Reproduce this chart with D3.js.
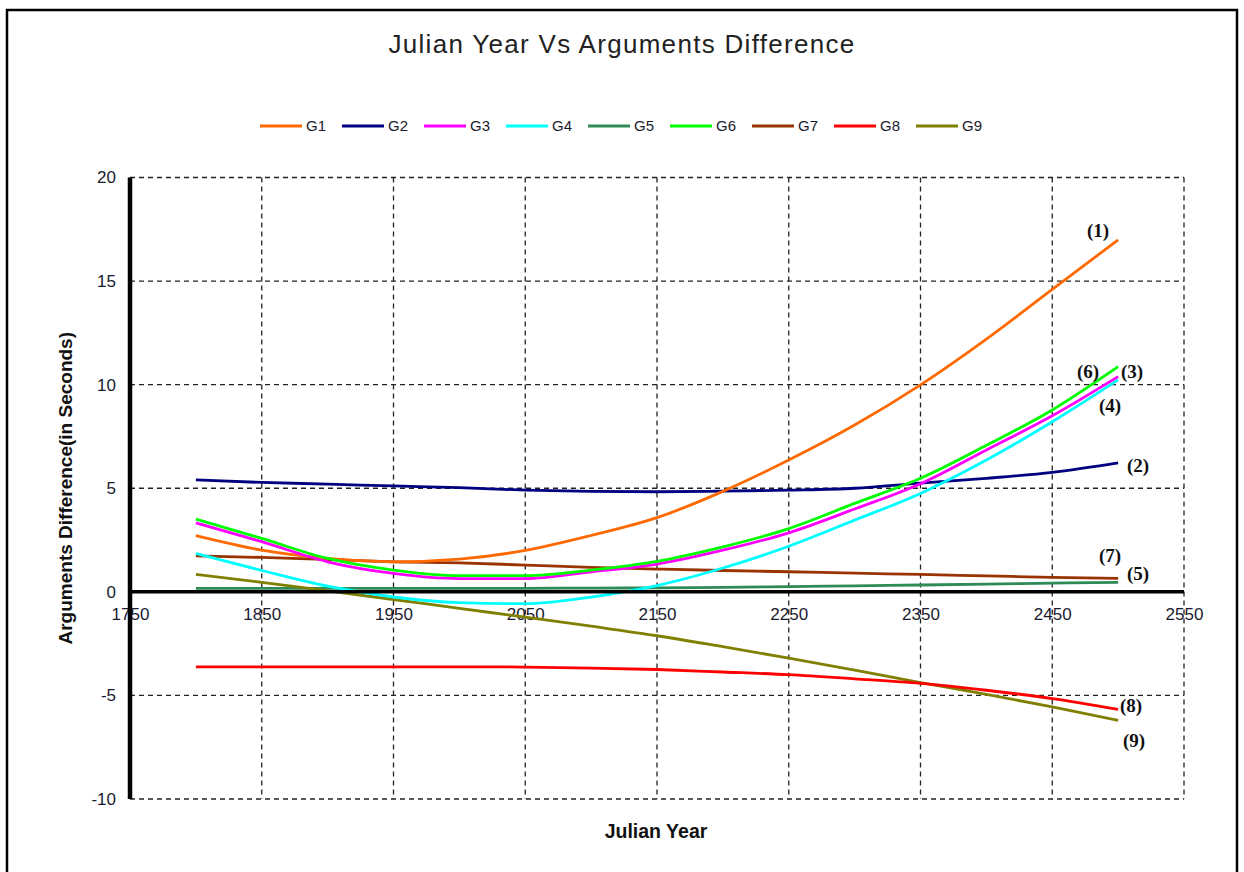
<!DOCTYPE html>
<html>
<head>
<meta charset="utf-8">
<script src="https://cdn.jsdelivr.net/npm/d3@7"></script>
<style>
  html, body { margin: 0; padding: 0; background: #fff; }
  svg { display: block; }
</style>
</head>
<body>
<svg id="chart" width="1244" height="872"></svg>
<script>
// ---------- data ----------
const years = [1800, 1850, 1900, 1950, 2000, 2050, 2100, 2150, 2200, 2250, 2300, 2350, 2400, 2450, 2500];
const G1 = [2.71, 2.01, 1.61, 1.45, 1.58, 2.00, 2.72, 3.58, 4.85, 6.36, 8.05, 9.99, 12.2, 14.6, 16.99];
const G2 = [5.40, 5.28, 5.20, 5.11, 5.03, 4.91, 4.85, 4.83, 4.86, 4.91, 5.00, 5.25, 5.48, 5.77, 6.23];
const G3 = [3.33, 2.42, 1.45, 0.89, 0.64, 0.64, 0.97, 1.34, 2.01, 2.85, 4.00, 5.22, 6.85, 8.50, 10.39];
const G4 = [1.85, 1.03, 0.27, -0.25, -0.52, -0.57, -0.25, 0.30, 1.15, 2.20, 3.46, 4.75, 6.36, 8.21, 10.23];
const G5 = [0.17, 0.17, 0.17, 0.17, 0.17, 0.17, 0.18, 0.19, 0.22, 0.25, 0.29, 0.33, 0.37, 0.42, 0.46];
const G6 = [3.51, 2.58, 1.61, 1.05, 0.78, 0.78, 1.05, 1.47, 2.17, 3.05, 4.27, 5.48, 7.07, 8.78, 10.87];
const G7 = [1.74, 1.66, 1.56, 1.45, 1.40, 1.29, 1.18, 1.10, 1.03, 0.97, 0.90, 0.84, 0.77, 0.70, 0.65];
const G8 = [-3.62, -3.62, -3.62, -3.62, -3.62, -3.63, -3.68, -3.75, -3.87, -4.00, -4.20, -4.42, -4.75, -5.15, -5.67];
const G9 = [0.84, 0.46, 0.05, -0.37, -0.80, -1.22, -1.66, -2.12, -2.65, -3.20, -3.78, -4.38, -4.95, -5.55, -6.20];

const seriesNames = ["G1", "G2", "G3", "G4", "G5", "G6", "G7", "G8", "G9"];
const seriesValues = [G1, G2, G3, G4, G5, G6, G7, G8, G9];
const seriesColors = ["#ff6a00", "#000080", "#ff00ff", "#00ffff", "#2e8b57", "#00ff00", "#993300", "#ff0000", "#808000"];
const endLabels = ["(1)", "(2)", "(3)", "(4)", "(5)", "(6)", "(7)", "(8)", "(9)"];

const xTicks = [1750, 1850, 1950, 2050, 2150, 2250, 2350, 2450, 2550];
const yTicks = [-10, -5, 0, 5, 10, 15, 20];

const chartTitle = "Julian Year Vs Arguments Difference";
const xTitle = "Julian Year";
const yTitle = "Arguments Difference(in Seconds)";

// ---------- layout ----------
const SANS = "'Liberation Sans', Arial, sans-serif";
const SERIF = "'Liberation Serif', 'Times New Roman', serif";
const svg = d3.select("#chart");
const pLeft = 130, pRight = 1184, pTop = 177.5, pBottom = 799;
const x = d3.scaleLinear().domain([1750, 2550]).range([pLeft, pRight]);
const y = d3.scaleLinear().domain([-10, 20]).range([pBottom, pTop]);

// outer frame
svg.append("rect").attr("x", 7).attr("y", 10).attr("width", 1230).attr("height", 880)
  .attr("fill", "none").attr("stroke", "#000").attr("stroke-width", 2.5);

// title
svg.append("text").attr("x", 622).attr("y", 53).attr("text-anchor", "middle")
  .style("font-family", SANS).style("font-size", "26px").style("letter-spacing", "1.3px")
  .attr("fill", "#222").text(chartTitle);

// grid
const grid = svg.append("g").attr("stroke", "#222").attr("stroke-width", 1.3)
  .attr("stroke-dasharray", "5,4").attr("fill", "none");
xTicks.filter(t => t !== 1750).forEach(t => {
  grid.append("line").attr("x1", x(t)).attr("x2", x(t)).attr("y1", y(20)).attr("y2", y(-10));
});
yTicks.filter(t => t !== 0).forEach(t => {
  grid.append("line").attr("x1", x(1750)).attr("x2", x(2550)).attr("y1", y(t)).attr("y2", y(t));
});

// y axis tick labels
const yAxis = d3.axisLeft(y).tickValues(yTicks).tickSize(0).tickPadding(14).tickFormat(d => String(d));
const yg = svg.append("g").attr("transform", `translate(${pLeft},0)`).call(yAxis);
yg.select(".domain").remove();
yg.selectAll("text").style("font-size", "17px").style("font-family", SANS).attr("fill", "#1a1a2e");

// x axis labels placed under the zero line
const xAxis = d3.axisBottom(x).tickValues(xTicks).tickSize(0).tickPadding(16).tickFormat(d => String(d));
const xg = svg.append("g").attr("transform", `translate(0,${y(0)})`).call(xAxis);
xg.select(".domain").remove();
xg.selectAll("text").style("font-size", "17px").style("font-family", SANS).attr("fill", "#1a1a2e");

// series lines
const line = d3.line().x((d, i) => x(years[i])).y(d => y(d)).curve(d3.curveMonotoneX);
const order = [4, 6, 8, 7, 1, 0, 3, 2, 5];
order.forEach(k => {
  svg.append("path").datum(seriesValues[k]).attr("d", line)
    .attr("fill", "none").attr("stroke", seriesColors[k]).attr("stroke-width", 2.8);
});

// zero line and left axis line
svg.append("line").attr("x1", x(1750)).attr("x2", x(2550)).attr("y1", y(0)).attr("y2", y(0))
  .attr("stroke", "#000").attr("stroke-width", 3.5);
svg.append("line").attr("x1", x(1750)).attr("x2", x(1750)).attr("y1", y(20)).attr("y2", y(-10))
  .attr("stroke", "#000").attr("stroke-width", 4.5);

// end labels
const labelPos = [[1098, 230], [1138, 465], [1132, 371], [1110, 405], [1138, 573], [1088, 371], [1110, 555], [1131, 705], [1134, 740]];
endLabels.forEach((t, i) => {
  svg.append("text").attr("x", labelPos[i][0]).attr("y", labelPos[i][1]).attr("dy", "0.35em")
    .attr("text-anchor", "middle").style("font-family", SERIF)
    .style("font-weight", "bold").style("font-size", "19px").attr("fill", "#111").text(t);
});

// legend
const lg = svg.append("g").attr("transform", "translate(260,126)");
seriesNames.forEach((n, i) => {
  const g = lg.append("g").attr("transform", `translate(${i * 82},0)`);
  g.append("line").attr("x1", 0).attr("x2", 42).attr("y1", 0).attr("y2", 0)
    .attr("stroke", seriesColors[i]).attr("stroke-width", 3);
  g.append("text").attr("x", 46).attr("y", 0).attr("dy", "0.35em")
    .style("font-family", SANS).style("font-size", "15px").attr("fill", "#1a1a2e").text(n);
});

// axis titles
svg.append("text").attr("x", 656).attr("y", 838).attr("text-anchor", "middle")
  .style("font-family", SANS).style("font-size", "19.5px").style("font-weight", "bold")
  .attr("fill", "#111").text(xTitle);
svg.append("text").attr("transform", `translate(72,${(pTop + pBottom) / 2}) rotate(-90)`)
  .attr("text-anchor", "middle").style("font-family", SANS).style("font-size", "19px")
  .style("font-weight", "bold").attr("fill", "#111").text(yTitle);
</script>
</body>
</html>
